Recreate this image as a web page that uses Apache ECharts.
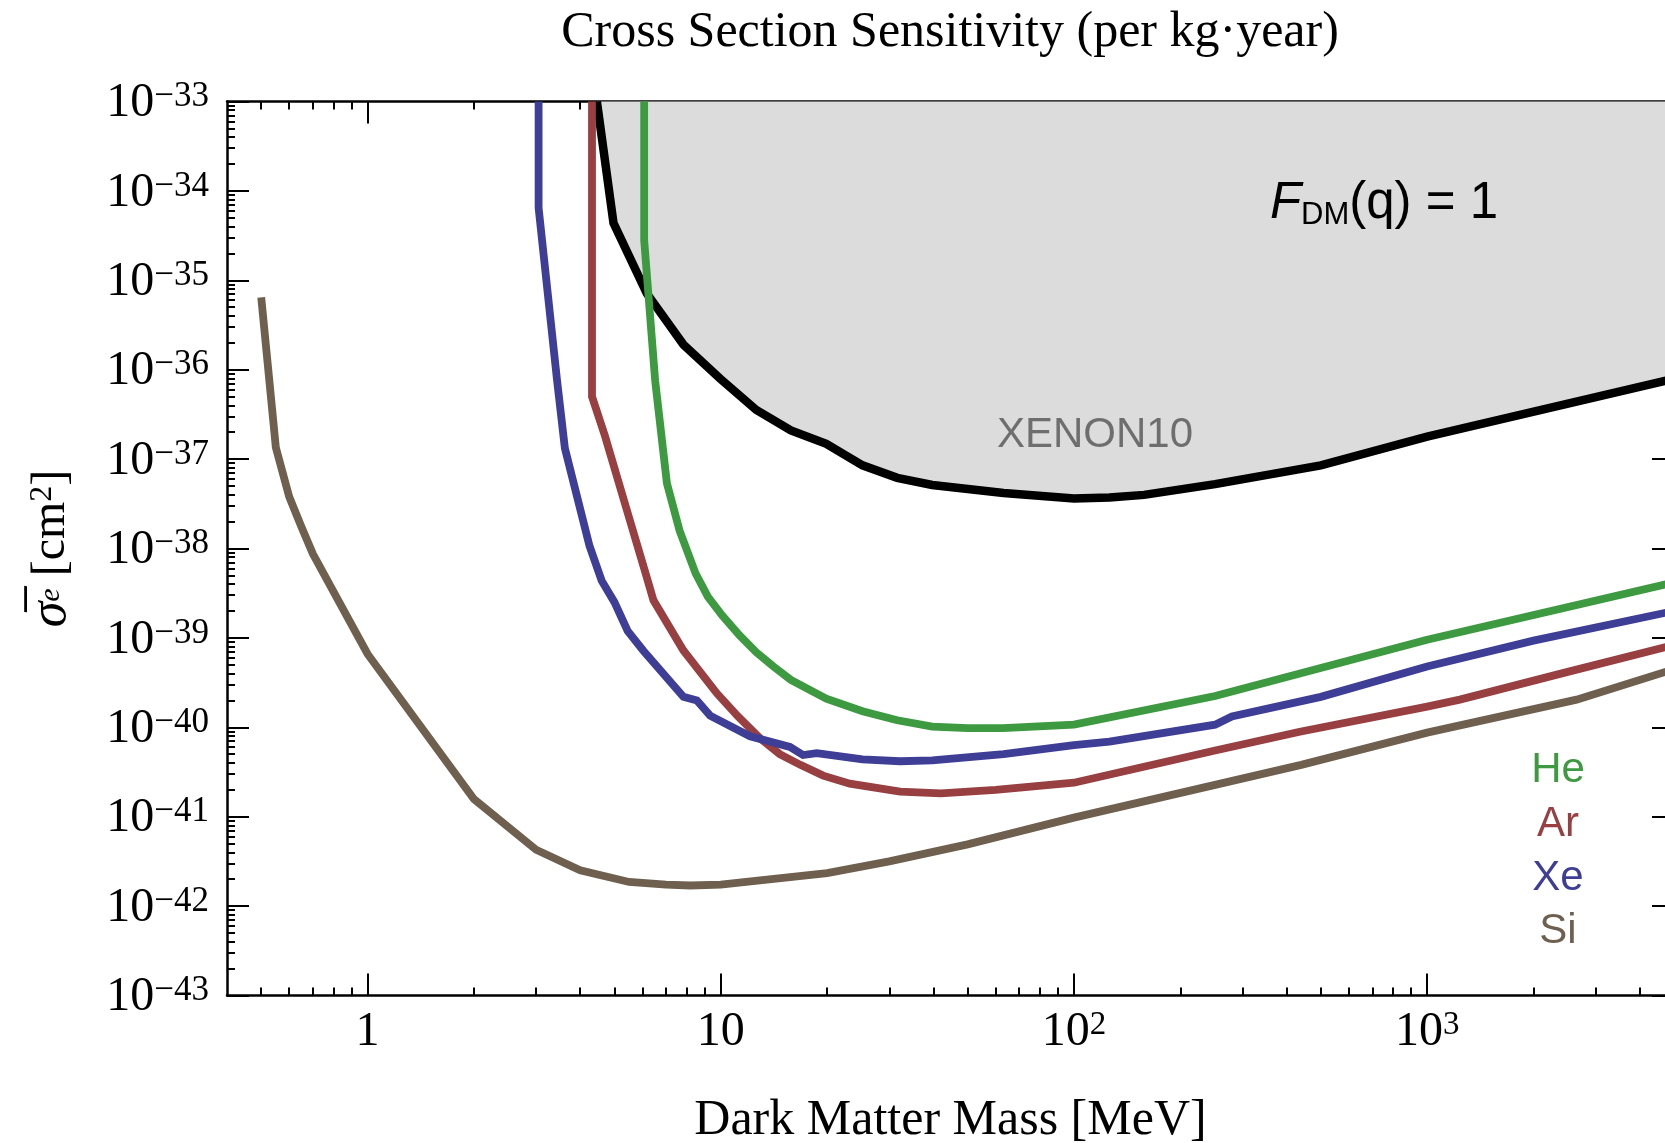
<!DOCTYPE html>
<html>
<head>
<meta charset="utf-8">
<script src="https://cdn.jsdelivr.net/npm/echarts@6/dist/echarts.min.js"></script>
<style>
html,body{margin:0;padding:0;background:#ffffff;}
#c{width:1665px;height:1143px;}
</style>
</head>
<body>
<div id="c"></div>
<script>
// ---------------- data (mass in MeV, cross section in cm^2) ----------------
const xMin = 0.4, xMax = 5000;
const yMin = 1e-43, yMax = 1e-33;

const xTickValues = [1, 10, 100, 1000];
const xTickLabels = ['{b|1}', '{b|10}', '{b|10}{s|2}', '{b|10}{s|3}'];
const yTickExps = [-43, -42, -41, -40, -39, -38, -37, -36, -35, -34, -33];

const x10Mass  = [4.46, 4.97, 6.18, 7.84, 9.96, 12.6, 15.8, 19.9, 25.2, 31.6, 39.7, 63.2, 100, 126, 158, 251, 500, 1000, 5000];
const x10Sigma = [1e-33, 4.37e-35, 7.08e-36, 1.91e-36, 7.94e-37, 3.55e-37, 2.09e-37, 1.48e-37, 8.51e-38, 6.17e-38, 5.13e-38, 4.17e-38, 3.63e-38, 3.72e-38, 3.98e-38, 5.25e-38, 8.51e-38, 1.78e-37, 7.94e-37];

const heMass  = [6.07, 6.07, 6.52, 6.66, 7.04, 7.65, 8.49, 9.2, 10.1, 11.3, 12.6, 14.1, 15.8, 19.9, 25.2, 31.6, 39.7, 50, 63, 100, 251, 1000, 5000];
const heSigma = [1e-33, 2.82e-35, 7.59e-37, 3.63e-37, 5.37e-38, 1.58e-38, 5.25e-39, 2.88e-39, 1.78e-39, 1.07e-39, 6.92e-40, 4.79e-40, 3.39e-40, 2.09e-40, 1.51e-40, 1.20e-40, 1.02e-40, 9.77e-41, 9.77e-41, 1.07e-40, 2.24e-40, 9.55e-40, 4.17e-39];

const arMass  = [4.32, 4.32, 4.7, 5.45, 6.13, 6.45, 7.84, 9.75, 11.2, 12.9, 14.7, 16.8, 19.5, 23.2, 32.2, 42, 60, 100, 251, 436, 1000, 1238, 2500, 5000];
const arSigma = [1e-33, 5.01e-37, 1.82e-37, 2.51e-38, 5.25e-39, 2.63e-39, 7.24e-40, 2.40e-40, 1.32e-40, 7.59e-41, 5.01e-41, 3.80e-41, 2.88e-41, 2.34e-41, 1.91e-41, 1.82e-41, 2.00e-41, 2.40e-41, 5.50e-41, 8.91e-41, 1.70e-40, 2.04e-40, 4.17e-40, 8.32e-40];

const xeMass  = [3.05, 3.05, 3.44, 3.62, 4.25, 4.6, 5.0, 5.45, 6.03, 7.84, 8.56, 9.33, 12.1, 15.7, 17.1, 18.7, 25.2, 32.2, 39.7, 63.2, 100, 126, 251, 280, 500, 1000, 2000, 5000];
const xeSigma = [1e-33, 6.46e-35, 7.59e-37, 1.32e-37, 1.07e-38, 4.37e-39, 2.51e-39, 1.20e-39, 7.24e-40, 2.19e-40, 2.00e-40, 1.35e-40, 7.94e-41, 6.03e-41, 4.90e-41, 5.13e-41, 4.37e-41, 4.17e-41, 4.27e-41, 5.01e-41, 6.31e-41, 6.92e-41, 1.07e-40, 1.32e-40, 2.19e-40, 4.79e-40, 9.33e-40, 2.00e-39];

const siMass  = [0.5, 0.55, 0.6, 0.65, 0.7, 0.85, 1, 2, 3, 4, 5.5, 7, 8.2, 10, 20, 30, 50, 100, 440, 1000, 2650, 5000];
const siSigma = [6.46e-36, 1.35e-37, 3.80e-38, 1.74e-38, 8.71e-39, 2.14e-39, 6.61e-40, 1.58e-41, 4.27e-42, 2.51e-42, 1.86e-42, 1.74e-42, 1.70e-42, 1.74e-42, 2.34e-42, 3.16e-42, 4.90e-42, 9.77e-42, 3.80e-41, 8.71e-41, 2.04e-40, 4.47e-40];

const seriesNames = ['He', 'Ar', 'Xe', 'Si'];
const seriesColors = ['#3d9a40', '#983f42', '#3e3e97', '#6f5f4f'];

// ---------------- helpers ----------------
const L = v => Math.log10(v);
const SERIF = '"Liberation Serif", "Times New Roman", serif';
const SANS = '"Liberation Sans", Arial, sans-serif';

const xMinor = [];
for (let n = -1; n <= 3; n++) for (let k = 2; k <= 9; k++) {
  const v = k * Math.pow(10, n);
  if (v > xMin && v < xMax) xMinor.push(L(v));
}
const yMinor = [];
for (let n = -43; n <= -34; n++) for (let k = 2; k <= 9; k++) yMinor.push(n + L(k));

const xRich = {
  b: {fontFamily: SERIF, fontSize: 48, lineHeight: 48, color: '#000'},
  s: {fontFamily: SERIF, fontSize: 33, lineHeight: 22, verticalAlign: 'top', color: '#000'}
};
const yRich = {
  b: {fontFamily: SERIF, fontSize: 48, lineHeight: 48, color: '#000'},
  s: {fontFamily: SERIF, fontSize: 35, lineHeight: 18, verticalAlign: 'top', color: '#000'}
};

function axis(kind, pos, major, opts) {
  const isX = kind === 'x';
  const a = {
    type: 'value', gridIndex: 0, position: pos,
    min: isX ? L(xMin) : L(yMin), max: isX ? L(xMax) : L(yMax),
    splitLine: {show: false},
    axisLine: {show: major, onZero: false, lineStyle: {color: '#000', width: 2.5}},
    axisTick: {show: true, inside: true, length: major ? 22 : 8,
      lineStyle: {color: '#000', width: 2},
      customValues: major ? (isX ? xTickValues.map(L) : yTickExps) : (isX ? xMinor : yMinor)},
    axisLabel: {show: false},
    silent: true
  };
  return Object.assign(a, opts || {});
}

const xAxes = [
  axis('x', 'bottom', true, {
    axisLabel: {show: true, margin: 13, customValues: xTickValues.map(L), rich: xRich,
      formatter: v => { const i = xTickValues.findIndex(t => Math.abs(L(t) - v) < 1e-6); return i >= 0 ? xTickLabels[i] : ''; }},
    name: 'Dark Matter Mass [MeV]', nameLocation: 'middle', nameGap: 100,
    nameTextStyle: {fontFamily: SERIF, fontSize: 50, lineHeight: 50, color: '#000'}
  }),
  axis('x', 'bottom', false),
  axis('x', 'top', true),
  axis('x', 'top', false)
];
const yAxes = [
  axis('y', 'left', true, {
    axisLabel: {show: true, margin: 18, customValues: yTickExps, rich: yRich, padding: [4, 0, 0, 0],
      formatter: v => '{b|10}{s|\u2212' + Math.round(-v) + '}'},
    name: '{s|\u03C3\u0305}{e|e}{b| [cm}{p|2}{b|]}', nameLocation: 'middle', nameRotate: 90, nameGap: 152,
    nameTextStyle: {rich: {
      s: {fontFamily: SERIF, fontStyle: 'italic', fontSize: 52, lineHeight: 48, color: '#000'},
      e: {fontFamily: SERIF, fontStyle: 'italic', fontSize: 30, lineHeight: 48, color: '#000'},
      b: {fontFamily: SERIF, fontSize: 48, lineHeight: 48, color: '#000'},
      p: {fontFamily: SERIF, fontSize: 32, lineHeight: 24, verticalAlign: 'top', color: '#000'}
    }}
  }),
  axis('y', 'left', false),
  axis('y', 'right', true),
  axis('y', 'right', false)
];

function line(name, mass, sigma, color, width, extra) {
  return Object.assign({
    type: 'line', name: name,
    data: mass.map((m, i) => [L(m), L(sigma[i])]),
    xAxisIndex: 0, yAxisIndex: 0,
    showSymbol: false, symbol: 'none', silent: true,
    lineStyle: {color: color, width: width, join: 'miter'},
    z: 3
  }, extra || {});
}

const series = [
  line('XENON10', x10Mass, x10Sigma, '#000000', 8.5, {
    areaStyle: {color: '#dcdcdc', opacity: 1, origin: 'end'}, z: 2
  }),
  line('Si', siMass, siSigma, seriesColors[3], 7.8),
  line('Ar', arMass, arSigma, seriesColors[1], 7.8),
  line('Xe', xeMass, xeSigma, seriesColors[2], 7.8),
  line('He', heMass, heSigma, seriesColors[0], 7.8)
];

const labelY = [770, 824, 878, 931];
const graphic = [
  {type: 'text', x: 950, y: 33, z: 100, silent: true,
   style: {text: 'Cross Section Sensitivity (per kg\u00B7year)', font: '50px ' + SERIF, fill: '#000', align: 'center', verticalAlign: 'middle'}},
  {type: 'text', x: 1384, y: 204, z: 100, silent: true,
   style: {text: '{f|F}{d|DM}{n|(q) = 1}', align: 'center', verticalAlign: 'middle',
     rich: {
       f: {fontFamily: SANS, fontStyle: 'italic', fontSize: 51, lineHeight: 54, fill: '#000'},
       d: {fontFamily: SANS, fontSize: 31, lineHeight: 19, verticalAlign: 'bottom', fill: '#000'},
       n: {fontFamily: SANS, fontSize: 51, lineHeight: 54, fill: '#000'}
     }}},
  {type: 'text', x: 1095, y: 435, z: 100, silent: true,
   style: {text: 'XENON10', font: '42px ' + SANS, fill: '#6e6e6e', align: 'center', verticalAlign: 'middle'}}
].concat(seriesNames.map((n, i) => ({
  type: 'text', x: 1558, y: labelY[i], z: 100, silent: true,
  style: {text: n, font: '42px ' + SANS, fill: seriesColors[i], align: 'center', verticalAlign: 'middle'}
})));

const chart = echarts.init(document.getElementById('c'), null, {renderer: 'canvas'});
chart.setOption({
  animation: false,
  backgroundColor: '#ffffff',
  grid: {left: 227, right: -9, top: 101.5, bottom: 147.5, containLabel: false, outerBoundsMode: 'none'},
  xAxis: xAxes,
  yAxis: yAxes,
  series: series,
  graphic: graphic
});
</script>
</body>
</html>
